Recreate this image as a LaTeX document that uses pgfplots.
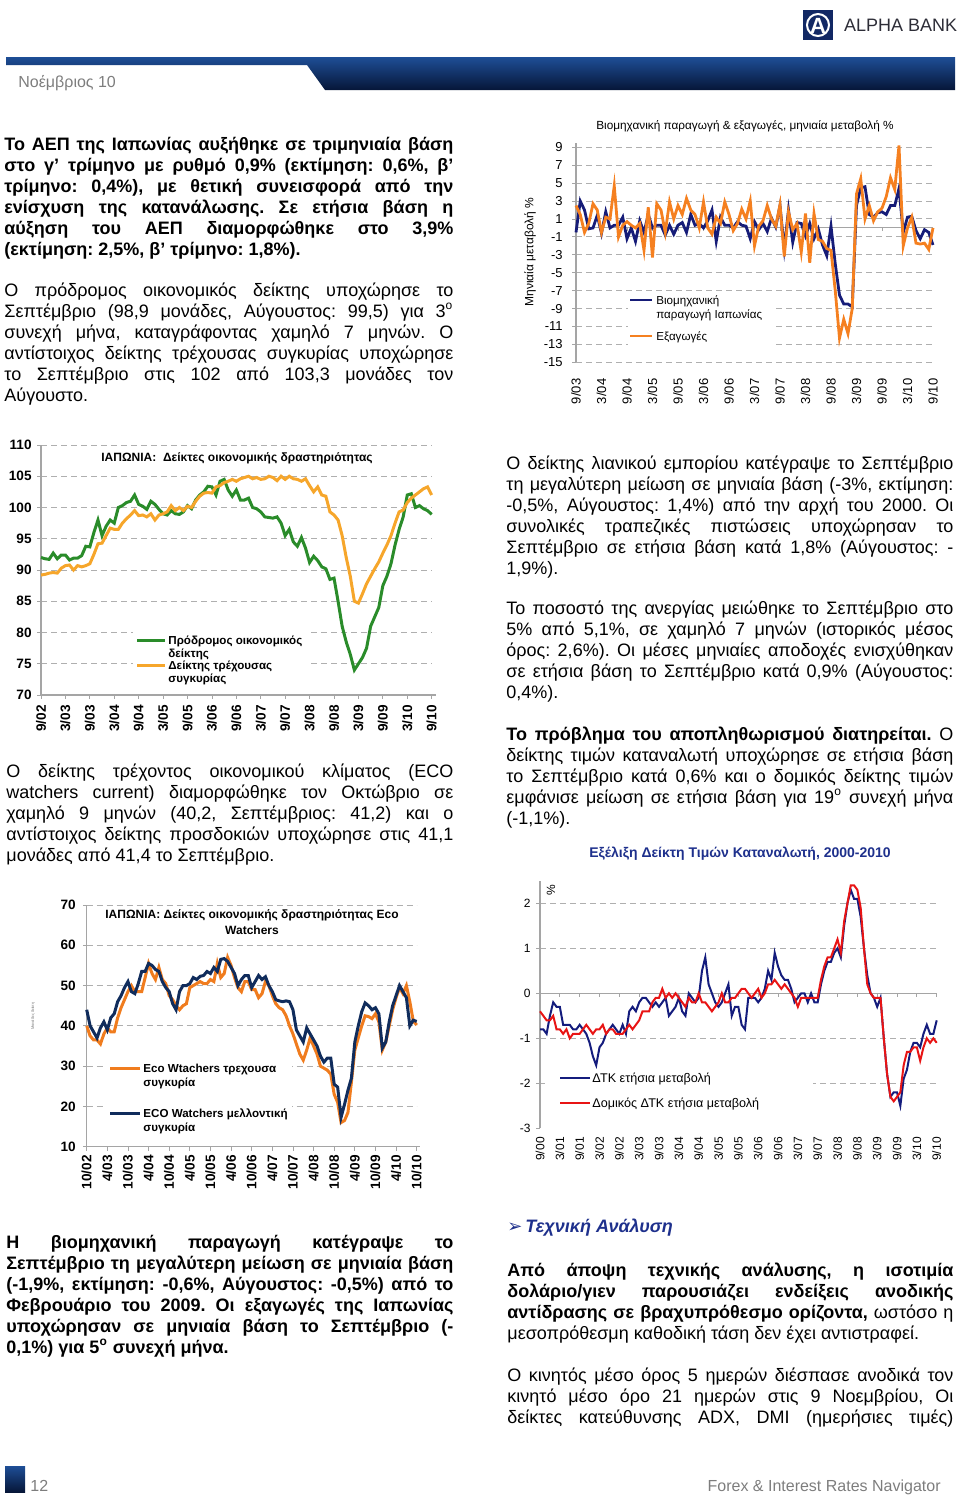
\documentclass[border=0pt]{standalone}
\usepackage{pgfplots}
\pgfplotsset{compat=1.18}
\usepackage{pgfplotstable}
\usepackage{fontspec}
\setmainfont{Liberation Sans}
\newfontfamily\dejavu{DejaVu Sans}
\frenchspacing
\definecolor{ipblue}{RGB}{22,28,120}
\definecolor{exorange}{RGB}{245,128,32}
\definecolor{leadgreen}{RGB}{42,140,42}
\definecolor{coingold}{RGB}{246,166,43}
\definecolor{ecoorange}{RGB}{240,124,30}
\definecolor{econavy}{RGB}{16,44,92}
\definecolor{cpiblue}{RGB}{20,28,125}
\definecolor{cpired}{RGB}{232,20,20}
\definecolor{headblue}{RGB}{30,48,140}
\definecolor{bandtop}{RGB}{30,78,150}
\definecolor{bandbot}{RGB}{6,22,56}
\definecolor{txtgray}{RGB}{125,125,125}
\definecolor{gridgray}{RGB}{175,175,175}
\definecolor{axgray}{RGB}{165,165,165}
\definecolor{logoblue}{RGB}{18,40,100}
\newcommand{\fs}[1]{\fontsize{#1}{#1}\selectfont}
\newcommand{\JL}[1]{\hbox to\hsize{#1}}
\newcommand{\LL}[1]{\hbox to\hsize{#1\hfil}}
\newcommand{\Para}[4]{\node[anchor=base west,inner sep=0pt] at (#1) {\fontsize{9pt}{10.5pt}\selectfont\frenchspacing#3\vtop{\hsize=#2\relax\baselineskip=10.5pt\lineskiplimit=-20pt\relax #4}};}

\pgfplotstableread{
ip ex
-0.5 2.5
3.0 1.5
2.0 -0.5
-0.1 0.5
0.0 2.7
1.4 2.0
-0.6 -0.5
1.8 1.2
0.0 1.0
0.3 4.7
0.3 -1.0
1.2 0.3
-1.2 0.7
0.0 0.3
-1.5 0.0
0.8 0.5
-0.5 -2.5
1.5 2.3
0.0 -3.3
0.3 2.7
0.3 2.0
-0.8 -0.5
0.3 2.9
-0.7 1.0
0.3 2.5
0.6 1.5
-0.5 3.3
1.5 2.0
0.3 1.5
0.5 0.0
0.0 2.9
0.8 0.0
2.0 -0.7
-1.5 1.2
1.2 0.5
0.3 2.9
0.3 1.5
0.0 -0.3
0.7 0.5
0.3 2.1
0.2 1.0
-1.2 3.0
0.7 -2.0
-0.2 0.2
0.5 0.8
-0.4 2.5
1.1 1.0
0.1 0.2
2.5 2.6
-2.3 -3.2
2.0 1.8
-1.6 -0.2
0.6 0.5
0.5 -2.7
-0.9 1.6
0.5 -3.9
-1.2 1.6
-0.1 -1.3
-1.9 -1.5
-3.1 -2.3
0.2 -2.5
-4.0 -7.0
-7.5 -12.3
-8.5 -10.2
-8.5 -11.8
-8.8 -9.0
2.5 3.8
4.5 5.5
4.6 1.0
1.5 2.5
1.2 0.8
1.7 1.8
1.8 2.2
1.5 3.5
2.5 5.6
2.5 4.3
4.4 9.2
-0.5 -2.0
1.2 0.0
1.3 1.2
-0.3 -1.7
-1.2 -1.8
-0.2 -1.7
-0.5 -2.4
-1.9 0.0
}\tone

\pgfplotstableread{
lead coin
92.0 89.2
91.8 89.3
91.7 89.5
92.7 89.6
91.8 89.5
92.4 90.3
92.4 90.7
91.6 90.8
91.9 90.0
91.9 90.7
92.3 90.5
93.8 90.7
93.7 91.0
96.0 92.5
98.0 94.2
95.5 94.3
97.0 95.5
98.0 96.7
97.5 96.5
100.0 96.5
100.3 97.5
100.8 98.2
101.0 98.8
102.0 99.5
100.5 98.7
100.2 98.8
99.7 98.5
101.0 99.0
100.5 98.0
99.7 98.8
99.0 99.0
98.8 99.3
99.5 100.3
99.0 99.5
98.9 100.0
99.3 99.5
100.3 100.2
99.8 100.0
101.2 101.0
102.0 101.8
102.5 102.3
103.4 102.4
103.3 102.3
102.0 103.3
104.2 103.5
104.5 104.0
102.8 104.2
101.8 104.5
102.8 104.2
101.2 104.6
101.2 104.8
101.5 105.0
100.0 104.6
99.8 104.8
99.3 104.5
98.5 104.6
98.4 105.0
98.3 104.8
98.5 104.3
97.5 105.0
95.5 104.5
96.5 105.0
94.5 104.6
93.8 104.5
95.2 104.2
93.5 104.6
91.2 103.5
92.2 102.5
91.5 103.3
90.5 102.0
90.2 101.8
88.5 99.3
88.7 98.8
85.0 98.0
81.0 95.5
78.5 92.0
76.5 89.0
74.0 85.0
75.0 84.7
76.0 86.2
77.5 87.8
81.0 89.0
82.5 90.2
84.0 91.3
87.5 92.7
89.0 94.0
91.0 95.5
94.0 97.5
96.5 99.3
98.5 99.6
102.0 100.8
102.2 101.5
100.0 102.0
100.3 102.5
99.8 103.0
99.5 103.3
98.9 102.0
}\ttwo

\pgfplotstableread{
cur fut
40 44
37.5 40
36.5 38.5
36.5 37
35.5 39.5
38 41
39.5 39
38.5 42
38.5 43
42 46
44.5 47.5
46.5 49.5
48.5 51
50 48.5
48.5 48
48.5 50.5
48.5 53.5
52 53.5
55.5 55.5
53 55
51.5 54
54.5 53.5
51.5 51
50.5 49.5
47.5 48.5
46.5 45.5
45 44
44 48.5
45 50
45.5 50
49.5 50.5
50 52
50.5 51.5
51 52.3
50.5 52.5
50.5 53.5
51.5 53
51 54.5
55.5 53.5
52 56.5
53 56.7
57 56
55 54.5
52 53
49.5 50
48.5 51.5
51 52.5
51 52.5
49 49.5
49 51
47 52.5
48 51.5
51 52.2
50 50
47.5 48.5
45.5 46.5
44.5 46.2
44 46
42.5 46.2
40 46
38 44
35.5 39
33 37.5
31.5 36
34 39.5
37 38
35 36.5
33 35
30 32.5
29.5 31
29 32
28 32
23 25.5
21 24.8
16 17.3
16.5 20.5
18.5 24
26 27
34 36
37 40
40 43.5
42.5 45.7
42.3 45
41.8 44
43 44.5
41 43
34 34.5
36 36
40 41
44 45
47 47.5
49.5 50
48 48.5
50 47
46 40
41.2 41.4
40.2 41.1
}\tthree

\pgfplotstableread{
cpi core
-0.8 -0.4
-0.8 -0.5
-0.9 -0.6
-0.5 -0.6
-0.2 -0.5
-0.3 -0.8
-0.3 -0.8
-0.7 -0.9
-0.7 -0.8
-0.7 -1.0
-0.8 -0.9
-0.8 -0.9
-0.7 -0.9
-0.8 -0.8
-0.9 -0.7
-1.1 -0.8
-1.4 -0.9
-1.6 -0.8
-1.2 -0.8
-1.1 -0.7
-0.9 -0.9
-0.8 -0.8
-0.7 -0.8
-0.8 -0.9
-0.9 -0.9
-0.7 -0.9
-0.9 -0.8
-0.4 -0.7
-0.3 -0.8
-0.4 -0.7
-0.2 -0.6
-0.1 -0.4
-0.1 -0.4
-0.2 -0.4
-0.3 -0.2
-0.2 -0.1
-0.3 -0.1
-0.2 0.1
-0.1 -0.1
-0.5 0.0
-0.4 -0.1
-0.3 0.0
-0.1 -0.1
-0.4 -0.2
-0.5 -0.3
0.0 -0.1
-0.1 -0.2
-0.2 -0.2
-0.1 0.0
0.5 -0.2
0.8 -0.2
0.2 -0.3
0.0 -0.4
-0.2 -0.3
-0.3 -0.2
-0.2 0.0
0.0 -0.2
0.2 -0.2
-0.5 -0.1
-0.3 -0.1
-0.3 0.0
-0.7 0.1
-0.8 0.1
-0.1 0.0
-0.1 -0.1
-0.1 0.0
-0.2 0.1
-0.1 -0.1
0.1 0.0
0.5 0.2
0.3 0.2
0.9 0.3
0.6 0.2
0.4 0.1
0.3 0.2
0.3 0.1
0.1 0.0
-0.2 -0.1
-0.1 -0.3
0.0 -0.1
0.0 -0.1
-0.2 -0.1
0.0 -0.1
-0.2 -0.1
-0.2 -0.1
0.2 0.3
0.5 0.6
0.7 0.8
0.7 0.8
0.9 1.0
1.0 1.2
0.8 0.9
1.5 1.6
2.0 2.0
2.3 2.4
2.1 2.4
2.1 2.3
1.7 1.9
1.0 1.0
0.4 0.2
0.0 0.0
-0.1 -0.1
-0.3 -0.1
-0.1 -0.1
-1.0 -1.0
-1.8 -1.8
-2.3 -2.3
-2.2 -2.4
-2.2 -2.3
-2.5 -2.2
-1.9 -1.6
-1.7 -1.3
-1.3 -1.3
-1.1 -1.2
-1.1 -1.2
-1.2 -1.5
-0.9 -1.2
-0.7 -1.0
-0.9 -1.1
-0.9 -1.0
-0.6 -1.1
}\tfour

\pgfplotsset{
  pageax/.style={
    scale only axis, anchor=south west, clip=false,
    axis line style={draw=none}, tick style={draw=none},
    ymajorgrids, grid style={gridgray, dash pattern=on 3pt off 2pt, line width=0.5pt},
    ticklabel style={inner sep=0pt},
    xticklabel style={rotate=90, anchor=east},
    /pgf/number format/assume math mode=true,
  }
}

\begin{document}
\begin{tikzpicture}[x=0.5pt,y=-0.5pt]
\useasboundingbox (0,0) rectangle (960,1499);

% ---------------- header
\fill[logoblue] (803,10) rectangle (833,40);
\draw[white, line width=1pt] (818,25) circle (11);
\node[white, font=\bfseries\fs{11pt}] at (818,26) {Α};
\node[anchor=west, font=\fs{9pt}, text={rgb,255:red,45;green,45;blue,55}] at (837,25) {ALPHA BANK};
\shade[top color=bandtop, bottom color=bandbot] (6,57) -- (955,57) -- (955,90) -- (325,90) -- (307,65) -- (6,65) -- cycle;
\node[anchor=base west, inner sep=0pt, font=\fs{8pt}, txtgray] at (18,87) {Νοέμβριος 10};

% ---------------- text blocks
\Para{4,150.5}{224.5pt}{\bfseries}{%
\JL{Το ΑΕΠ της Ιαπωνίας αυξήθηκε σε τριμηνιαία βάση}
\JL{στο γ’ τρίμηνο με ρυθμό 0,9\% (εκτίμηση: 0,6\%, β’}
\JL{τρίμηνο: 0,4\%), με θετική συνεισφορά από την}
\JL{ενίσχυση της κατανάλωσης. Σε ετήσια βάση η}
\JL{αύξηση του ΑΕΠ διαμορφώθηκε στο 3,9\%}
\LL{(εκτίμηση: 2,5\%, β’ τρίμηνο: 1,8\%).}}

\Para{4,296.5}{224.5pt}{}{%
\JL{Ο πρόδρομος οικονομικός δείκτης υποχώρησε το}
\JL{Σεπτέμβριο (98,9 μονάδες, Αύγουστος: 99,5) για 3\textsuperscript{o}}
\JL{συνεχή μήνα, καταγράφοντας χαμηλό 7 μηνών. Ο}
\JL{αντίστοιχος δείκτης τρέχουσας συγκυρίας υποχώρησε}
\JL{το Σεπτέμβριο στις 102 από 103,3 μονάδες τον}
\LL{Αύγουστο.}}

\Para{506,469}{223.5pt}{}{%
\JL{Ο δείκτης λιανικού εμπορίου κατέγραψε το Σεπτέμβριο}
\JL{τη μεγαλύτερη μείωση σε μηνιαία βάση (-3\%, εκτίμηση:}
\JL{-0,5\%, Αύγουστος: 1,4\%) από την αρχή του 2000. Οι}
\JL{συνολικές τραπεζικές πιστώσεις υποχώρησαν το}
\JL{Σεπτέμβριο σε ετήσια βάση κατά 1,8\% (Αύγουστος: -}
\LL{1,9\%).}}

\Para{506,614.5}{223.5pt}{}{%
\JL{Το ποσοστό της ανεργίας μειώθηκε το Σεπτέμβριο στο}
\JL{5\% από 5,1\%, σε χαμηλό 7 μηνών (ιστορικός μέσος}
\JL{όρος: 2,6\%). Οι μέσες μηνιαίες αποδοχές ενισχύθηκαν}
\JL{σε ετήσια βάση το Σεπτέμβριο κατά 0,9\% (Αύγουστος:}
\LL{0,4\%).}}

\Para{506,740}{223.5pt}{}{%
\JL{{\bfseries Το πρόβλημα του αποπληθωρισμού διατηρείται.} Ο}
\JL{δείκτης τιμών καταναλωτή υποχώρησε σε ετήσια βάση}
\JL{το Σεπτέμβριο κατά 0,6\% και ο δομικός δείκτης τιμών}
\JL{εμφάνισε μείωση σε ετήσια βάση για 19\textsuperscript{o} συνεχή μήνα}
\LL{(-1,1\%).}}

\node[anchor=base, inner sep=0pt, font=\bfseries\fs{7pt}, headblue] at (740,857) {Εξέλιξη Δείκτη Τιμών Καταναλωτή, 2000-2010};

\Para{6,777}{223.5pt}{}{%
\JL{Ο δείκτης τρέχοντος οικονομικού κλίματος (ECO}
\JL{watchers current) διαμορφώθηκε τον Οκτώβριο σε}
\JL{χαμηλό 9 μηνών (40,2, Σεπτέμβριος: 41,2) και ο}
\JL{αντίστοιχος δείκτης προσδοκιών υποχώρησε στις 41,1}
\LL{μονάδες από 41,4 το Σεπτέμβριο.}}

\Para{6,1248.5}{223.5pt}{\bfseries}{%
\JL{Η βιομηχανική παραγωγή κατέγραψε το}
\JL{Σεπτέμβριο τη μεγαλύτερη μείωση σε μηνιαία βάση}
\JL{(-1,9\%, εκτίμηση: -0,6\%, Αύγουστος: -0,5\%) από το}
\JL{Φεβρουάριο του 2009. Οι εξαγωγές της Ιαπωνίας}
\JL{υποχώρησαν σε μηνιαία βάση το Σεπτέμβριο (-}
\LL{0,1\%) για 5\textsuperscript{o} συνεχή μήνα.}}

\node[anchor=base west, inner sep=0pt, font=\bfseries\itshape\fs{9pt}, headblue] at (507,1232) {{\dejavu\fs{9pt}➢}\,Τεχνική Ανάλυση};

\Para{507,1276}{223pt}{}{%
\JL{\bfseries Από άποψη τεχνικής ανάλυσης, η ισοτιμία}
\JL{\bfseries δολάριο/γιεν παρουσιάζει ενδείξεις ανοδικής}
\JL{{\bfseries αντίδρασης σε βραχυπρόθεσμο ορίζοντα,} ωστόσο η}
\LL{μεσοπρόθεσμη καθοδική τάση δεν έχει αντιστραφεί.}}

\Para{507,1381}{223pt}{}{%
\JL{Ο κινητός μέσο όρος 5 ημερών διέσπασε ανοδικά τον}
\JL{κινητό μέσο όρο 21 ημερών στις 9 Νοεμβρίου, Οι}
\JL{δείκτες κατεύθυνσης ADX, DMI (ημερήσιες τιμές)}}

% ---------------- footer
\shade[top color=bandtop, bottom color=bandbot] (5,1466) rectangle (25,1492);
\node[anchor=base west, inner sep=0pt, font=\fs{8pt}, txtgray] at (30,1491) {12};
\node[anchor=base east, inner sep=0pt, font=\fs{8pt}, txtgray] at (941,1491) {Forex \& Interest Rates Navigator};

% ---------------- chart 1 : industrial production & exports
\begin{axis}[pageax,
  at={(288pt,-181.15pt)}, width=178.5pt, height=107.5pt,
  xmin=0, xmax=84, ymin=-15, ymax=9,
  ytick={-15,-13,-11,-9,-7,-5,-3,-1,1,3,5,7,9},
  xtick={0,6,12,18,24,30,36,42,48,54,60,66,72,78,84},
  xticklabels={9/03,3/04,9/04,3/05,9/05,3/06,9/06,3/07,9/07,3/08,9/08,3/09,9/09,3/10,9/10},
  ticklabel style={font=\fs{6.5pt}},
  xticklabel shift=8pt, yticklabel shift=6.5pt,
]
\draw[axgray, line width=0.6pt] (axis cs:0,-15) -- (axis cs:0,9.5);
\draw[axgray, line width=0.5pt] (axis cs:0,0) -- (axis cs:84,0);
\pgfplotsinvokeforeach{-15,-13,-11,-9,-7,-5,-3,-1,1,3,5,7,9}{\draw[axgray] (axis cs:0,#1) -- ++(-2pt,0pt);}
\pgfplotsinvokeforeach{0,6,12,18,24,30,36,42,48,54,60,66,72,78,84}{\draw[axgray] (axis cs:#1,0) -- ++(0pt,-1.5pt);}
\addplot[ipblue, line width=1.4pt] table[x expr=\coordindex, y=ip] {\tone};
\addplot[exorange, line width=1.4pt] table[x expr=\coordindex, y=ex] {\tone};
\end{axis}
\node[font=\fs{5.9pt}] at (745,126) {Βιομηχανική παραγωγή \& εξαγωγές, μηνιαία μεταβολή \%};
\node[rotate=90, font=\fs{6pt}] at (530,252) {Μηνιαία μεταβολή \%};
\fill[white] (628,292) rectangle (772,346);
\draw[ipblue, line width=1.4pt] (630,300) -- (652,300);
\draw[exorange, line width=1.4pt] (630,336) -- (652,336);
\node[anchor=base west, inner sep=0pt, font=\fs{5.8pt}] at (656,304) {Βιομηχανική};
\node[anchor=base west, inner sep=0pt, font=\fs{5.8pt}] at (656,318) {παραγωγή Ιαπωνίας};
\node[anchor=base west, inner sep=0pt, font=\fs{5.8pt}] at (656,340) {Εξαγωγές};

% ---------------- chart 2 : leading & coincident indices
\begin{axis}[pageax,
  at={(20.5pt,-347.5pt)}, width=195.35pt, height=125pt,
  xmin=0, xmax=96, ymin=70, ymax=110,
  ytick={70,75,80,85,90,95,100,105,110},
  xtick={0,6,12,18,24,30,36,42,48,54,60,66,72,78,84,90,96},
  xticklabels={9/02,3/03,9/03,3/04,9/04,3/05,9/05,3/06,9/06,3/07,9/07,3/08,9/08,3/09,9/09,3/10,9/10},
  ticklabel style={font=\bfseries\fs{6.8pt}},
  xticklabel shift=5pt, yticklabel shift=4.5pt,
]
\draw[axgray, line width=0.6pt] (axis cs:0,70) -- (axis cs:0,110);
\draw[axgray, line width=0.6pt] (axis cs:0,70) -- (axis cs:97,70);
\pgfplotsinvokeforeach{70,75,80,85,90,95,100,105,110}{\draw[axgray] (axis cs:0,#1) -- ++(-2pt,0pt);}
\pgfplotsinvokeforeach{0,6,12,18,24,30,36,42,48,54,60,66,72,78,84,90,96}{\draw[axgray] (axis cs:#1,70) -- ++(0pt,-2pt);}
\addplot[leadgreen, line width=1.5pt] table[x expr=\coordindex, y=lead] {\ttwo};
\addplot[coingold, line width=1.5pt] table[x expr=\coordindex, y=coin] {\ttwo};
\end{axis}
\node[font=\bfseries\fs{6pt}] at (237,458) {ΙΑΠΩΝΙΑ:\ \ Δείκτες οικονομικής δραστηριότητας};
\fill[white] (133,630) rectangle (310,690);
\draw[leadgreen, line width=1.5pt] (137,640) -- (165,640);
\draw[coingold, line width=1.5pt] (137,665) -- (165,665);
\node[anchor=base west, inner sep=0pt, font=\bfseries\fs{5.8pt}] at (168,644) {Πρόδρομος οικονομικός};
\node[anchor=base west, inner sep=0pt, font=\bfseries\fs{5.8pt}] at (168,657) {δείκτης};
\node[anchor=base west, inner sep=0pt, font=\bfseries\fs{5.8pt}] at (168,669) {Δείκτης τρέχουσας};
\node[anchor=base west, inner sep=0pt, font=\bfseries\fs{5.8pt}] at (168,682) {συγκυρίας};

% ---------------- chart 3 : Eco Watchers
\begin{axis}[pageax,
  at={(43.35pt,-573.35pt)}, width=165pt, height=120.85pt,
  xmin=0, xmax=96, ymin=10, ymax=70,
  ytick={10,20,30,40,50,60,70},
  xtick={0,6,12,18,24,30,36,42,48,54,60,66,72,78,84,90,96},
  xticklabels={10/02,4/03,10/03,4/04,10/04,4/05,10/05,4/06,10/06,4/07,10/07,4/08,10/08,4/09,10/09,4/10,10/10},
  ticklabel style={font=\bfseries\fs{6.8pt}},
  xticklabel shift=4pt, yticklabel shift=5.3pt,
]
\draw[axgray, line width=0.6pt] (axis cs:0,10) -- (axis cs:0,70);
\draw[axgray, line width=0.6pt] (axis cs:0,10) -- (axis cs:97,10);
\pgfplotsinvokeforeach{10,20,30,40,50,60,70}{\draw[axgray] (axis cs:0,#1) -- ++(-2pt,0pt);}
\pgfplotsinvokeforeach{0,6,12,18,24,30,36,42,48,54,60,66,72,78,84,90,96}{\draw[axgray] (axis cs:#1,10) -- ++(0pt,-2pt);}
\addplot[ecoorange, line width=1.5pt] table[x expr=\coordindex, y=cur] {\tthree};
\addplot[econavy, line width=1.5pt] table[x expr=\coordindex, y=fut] {\tthree};
\end{axis}
\node[anchor=base, inner sep=0pt, font=\bfseries\fs{6pt}] at (252,918) {ΙΑΠΩΝΙΑ: Δείκτες οικονομικής δραστηριότητας Eco};
\node[anchor=base, inner sep=0pt, font=\bfseries\fs{6pt}] at (252,934) {Watchers};
\node[rotate=90, font=\fs{2pt}, txtgray] at (33,1016) {Μονάδες δείκτη};
\fill[white] (105,1058) rectangle (292,1138);
\draw[ecoorange, line width=1.5pt] (110,1068) -- (140,1068);
\draw[econavy, line width=1.5pt] (110,1113) -- (140,1113);
\node[anchor=base west, inner sep=0pt, font=\bfseries\fs{5.8pt}] at (143,1072) {Eco Wtachers τρεχουσα};
\node[anchor=base west, inner sep=0pt, font=\bfseries\fs{5.8pt}] at (143,1086) {συγκυρία};
\node[anchor=base west, inner sep=0pt, font=\bfseries\fs{5.8pt}] at (143,1117) {ECO Watchers μελλοντική};
\node[anchor=base west, inner sep=0pt, font=\bfseries\fs{5.8pt}] at (143,1131) {συγκυρία};

% ---------------- chart 4 : CPI
\begin{axis}[pageax,
  at={(270pt,-564.15pt)}, width=198.35pt, height=123.75pt,
  xmin=0, xmax=120, ymin=-3, ymax=2.5,
  ytick={-2,-1,1,2}, extra y ticks={-3,0}, extra y tick style={grid=none},
  xtick={0,6,12,18,24,30,36,42,48,54,60,66,72,78,84,90,96,102,108,114,120},
  xticklabels={9/00,3/01,9/01,3/02,9/02,3/03,9/03,3/04,9/04,3/05,9/05,3/06,9/06,3/07,9/07,3/08,9/08,3/09,9/09,3/10,9/10},
  ticklabel style={font=\fs{6pt}},
  xticklabel shift=4.3pt, yticklabel shift=4.5pt,
]
\draw[axgray, line width=0.6pt] (axis cs:0,-3) -- (axis cs:0,2.5);
\draw[axgray, line width=0.6pt] (axis cs:0,0) -- (axis cs:120,0);
\pgfplotsinvokeforeach{-3,-2,-1,0,1,2}{\draw[axgray] (axis cs:0,#1) -- ++(-2pt,0pt);}
\pgfplotsinvokeforeach{0,6,12,18,24,30,36,42,48,54,60,66,72,78,84,90,96,102,108,114,120}{\draw[axgray] (axis cs:#1,0) -- ++(0pt,-2pt);}
\addplot[cpiblue, line width=1pt] table[x expr=\coordindex, y=cpi] {\tfour};
\addplot[cpired, line width=1pt] table[x expr=\coordindex, y=core] {\tfour};
\end{axis}
\node[rotate=90, font=\fs{6pt}] at (551,890) {\%};
\fill[white] (545,1069) rectangle (813,1112);
\draw[cpiblue, line width=1pt] (560,1078) -- (590,1078);
\draw[cpired, line width=1pt] (560,1103) -- (590,1103);
\node[anchor=base west, inner sep=0pt, font=\fs{6.3pt}] at (592,1082) {ΔΤΚ ετήσια μεταβολή};
\node[anchor=base west, inner sep=0pt, font=\fs{6.3pt}] at (592,1107) {Δομικός ΔΤΚ ετήσια μεταβολή};

\end{tikzpicture}
\end{document}
